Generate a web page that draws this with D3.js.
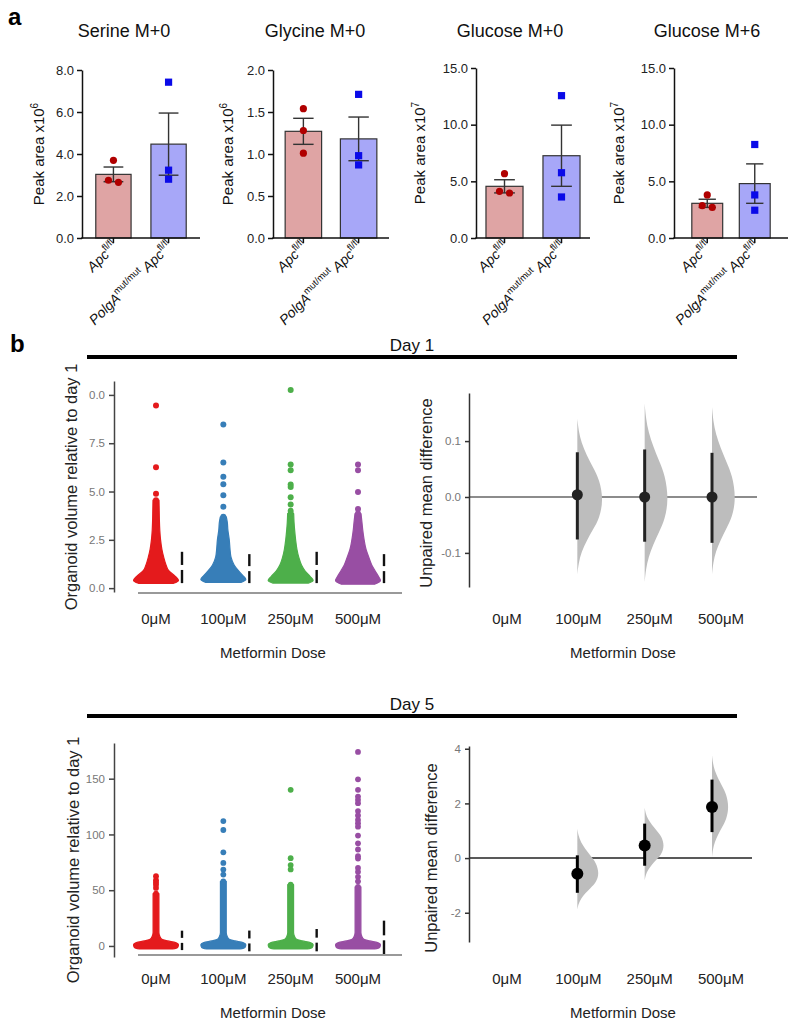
<!DOCTYPE html>
<html><head><meta charset="utf-8">
<script src="https://cdn.jsdelivr.net/npm/d3@7"></script>
<style>
body{margin:0;background:#fff;}
svg{display:block;}
</style></head><body>
<svg id="c" width="800" height="1024"></svg>
<script>
// ---------------- DATA: panel a ----------------
const aTitles = ["Serine M+0","Glycine M+0","Glucose M+0","Glucose M+6"];
const aExponents = ["6","6","7","7"];
const aYMax = [8, 2, 15, 15];
const aYTicks = [[0,2,4,6,8],[0,0.5,1,1.5,2],[0,5,10,15],[0,5,10,15]];
const aGroupLabels = [[["Apc","fl/fl"]], [["PolgA","mut/mut"],["Apc","fl/fl"]]];
const aMeanApc  = [3.03, 1.27, 4.56, 3.06];
const aMeanPolg = [4.47, 1.18, 7.26, 4.80];
const aSemApc   = [0.35, 0.155, 0.58, 0.36];
const aSemPolg  = [1.48, 0.26, 2.70, 1.74];
const aPtsApc  = [[3.70,2.65,2.75],[1.54,1.28,1.01],[5.68,3.97,4.12],[3.80,2.70,2.85]];
const aPtsPolg = [[7.42,3.23,2.80],[1.71,0.98,0.87],[12.56,5.76,3.62],[8.25,3.80,2.45]];

// ---------------- DATA: panel b ----------------
const doses = ["0μM","100μM","250μM","500μM"];
const d1TickVals = [0, 2.5, 5, 7.5, 10];
const d1TickLabels = ["0.0","2.5","5.0","7.5","0.0"];
const d5TickVals = [0, 50, 100, 150];
const d5TickLabels = ["0","50","100","150"];

// Day 1 swarm outline (value, relative width of the dense swarm)
const d1SwarmVals = [
  [0.25,0.4,0.6,0.9,1.2,1.6,2.0,2.5,3.0,3.5,4.0,4.55],
  [0.3,0.45,0.65,0.9,1.2,1.6,2.0,2.5,3.0,3.4,3.69],
  [0.26,0.4,0.6,0.9,1.2,1.6,2.0,2.5,3.0,3.4,3.86],
  [0.2,0.4,0.6,0.9,1.2,1.6,2.0,2.5,3.0,3.4,3.86]];
const d1SwarmDens = [
  [0.75,1.0,0.85,0.5,0.36,0.24,0.15,0.08,0.04,0.02,0.01,0],
  [0.75,1.0,0.85,0.62,0.4,0.24,0.19,0.15,0.08,0.05,0],
  [0.75,1.0,0.85,0.58,0.4,0.26,0.17,0.1,0.05,0.02,0],
  [0.7,1.0,0.9,0.72,0.55,0.4,0.26,0.16,0.09,0.05,0]];
const d1Outliers = [
  [9.45,6.25,4.88],
  [8.47,6.5,5.76,5.38,4.81,4.21],
  [10.26,6.4,6.1,5.36,5.24,4.71,4.33,4.0],
  [6.4,6.1,4.97,4.09]];
const d1Mean = [1.07,1.01,1.07,1.01];
const d1SD   = [0.81,0.75,0.81,0.75];

// Day 5 swarm outline
const d5SwarmVals = [
  [-2.7,-1.5,1,3,4.5,6,8.5,12,47],
  [-2.7,-1.5,1,3,4.5,6,8.5,12,58],
  [-2.7,-1.5,1,3,4.5,6,8.5,12,55],
  [-2.7,-1.5,1,3,4.5,6,8.5,12,53]];
const d5SwarmDens = [
  [0.7,0.95,1.0,0.85,0.45,0.15,0.05,0,0],
  [0.7,0.95,1.0,0.85,0.45,0.15,0.05,0,0],
  [0.7,0.95,1.0,0.85,0.45,0.15,0.05,0,0],
  [0.7,0.95,1.0,0.85,0.45,0.15,0.05,0,0]];
const d5Outliers = [
  [62.5,59,57,55,52],
  [112,104,84,74.5,68.5,64],
  [140,78.7,72.5,68.6],
  [174,149.4,140,134,131,128,121,117,113,110,107,99,92,86.5,80.5,78.4,70,66.5,62,58]];
const d5Mean = [5.0,4.5,5.2,7.3];
const d5SD   = [8.7,9.3,10,15.4];

// Estimation plots (vs 0μM)
const d1Diff = [0.004, 0.0, 0.0];
const d1CILo = [-0.076, -0.080, -0.082];
const d1CIHi = [0.080, 0.085, 0.079];
const d1BootTop = [0.14, 0.167, 0.161];
const d1BootBot = [-0.138, -0.152, -0.138];
const d1BootPeak = [-0.005, -0.003, -0.002];
const d1BootDens = [1.0, 0.92, 0.92];

const d5Diff = [-0.57, 0.46, 1.87];
const d5CILo = [-1.27, -0.28, 0.95];
const d5CIHi = [0.10, 1.26, 2.87];
const d5BootTop = [1.07, 1.84, 3.76];
const d5BootBot = [-1.88, -0.82, 0.04];
const d5BootPeak = [-0.57, 0.46, 1.87];
const d5BootDens = [1.0, 0.9, 0.77];

// shared bootstrap-distribution profile (normalised position, relative width)
const bootShapeT = [-1,-0.85,-0.7,-0.55,-0.4,-0.25,0,0.25,0.4,0.55,0.7,0.85,1];
const bootShapeW = [0,0.05,0.16,0.36,0.6,0.85,1,0.85,0.6,0.36,0.16,0.05,0];

// ---------------- DRAWING ----------------
const F = '"Liberation Sans", Arial, Helvetica, sans-serif';
const svg = d3.select("#c").attr("font-family", F);

// ===== Panel a =====
svg.append("text").attr("x",8).attr("y",25).attr("font-size",24).attr("font-weight","bold").text("a");

const aLayout = [
  {x0:82,  x1:200, top:70, tx:124, lx:44,  inner:0.36, outer:0.25},
  {x0:273, x1:389, top:70, tx:315, lx:233, inner:0.34, outer:0.22},
  {x0:476, x1:590, top:68, tx:510, lx:425, inner:0.35, outer:0.175},
  {x0:674, x1:788, top:68, tx:707, lx:624, inner:0.35, outer:0.375}];
const aBase = 238;
const groupKeys = ["apc","polg"];
const fillCols = ["#dfa4a4","#a7a7f8"];
const ptCols = ["#b00000","#0a0ae8"];

aTitles.forEach((title, p) => {
  const L = aLayout[p];
  const g = svg.append("g");
  const y = d3.scaleLinear().domain([0, aYMax[p]]).range([aBase, L.top]);
  const x = d3.scaleBand().domain(groupKeys).range([L.x0, L.x1]).paddingInner(L.inner).paddingOuter(L.outer);

  g.append("text").attr("x",L.tx).attr("y",37).attr("text-anchor","middle").attr("font-size",18).attr("fill","#111").text(title);

  const yl = g.append("text").attr("transform",`translate(${L.lx},${(aBase+L.top)/2}) rotate(-90)`)
    .attr("text-anchor","middle").attr("font-size",15).attr("fill","#111");
  yl.append("tspan").text("Peak area x10");
  yl.append("tspan").attr("dy",-6).attr("font-size",10).text(aExponents[p]);

  const means = [aMeanApc[p], aMeanPolg[p]];
  const sems = [aSemApc[p], aSemPolg[p]];
  const pts = [aPtsApc[p], aPtsPolg[p]];

  groupKeys.forEach((k, gi) => {
    const bx = x(k), bw = x.bandwidth(), cx = bx + bw/2;
    g.append("rect").attr("x",bx).attr("y",y(means[gi])).attr("width",bw).attr("height",aBase - y(means[gi]))
      .attr("fill",fillCols[gi]).attr("stroke","#333").attr("stroke-width",1.2);
    const hi = y(means[gi]+sems[gi]), lo = y(means[gi]-sems[gi]), cw = bw*0.28;
    g.append("line").attr("x1",cx).attr("x2",cx).attr("y1",hi).attr("y2",lo).attr("stroke","#333").attr("stroke-width",1.4);
    [hi,lo].forEach(yy => g.append("line").attr("x1",cx-cw).attr("x2",cx+cw).attr("y1",yy).attr("y2",yy).attr("stroke","#333").attr("stroke-width",1.4));
    // points, spread horizontally when overlapping
    const sorted = pts[gi].map(v => ({v, py:y(v)})).sort((a,b)=>a.py-b.py);
    const clusters = [];
    sorted.forEach(d => {
      const last = clusters[clusters.length-1];
      if (last && Math.abs(d.py - last[last.length-1].py) < 7) last.push(d); else clusters.push([d]);
    });
    clusters.forEach(cl => cl.forEach((d,i) => { d.px = cx + (i - (cl.length-1)/2) * 10; }));
    sorted.forEach(d => {
      if (gi === 0) g.append("circle").attr("cx",d.px).attr("cy",d.py).attr("r",3.6).attr("fill",ptCols[0]);
      else g.append("rect").attr("x",d.px-3.6).attr("y",d.py-3.6).attr("width",7.2).attr("height",7.2).attr("fill",ptCols[1]);
    });
    // x tick
    g.append("line").attr("x1",cx).attr("x2",cx).attr("y1",aBase).attr("y2",aBase+5).attr("stroke","#111").attr("stroke-width",1.5);
    // x label
    const t = g.append("text").attr("transform",`translate(${cx+5},${aBase+9}) rotate(-45)`)
      .attr("text-anchor","end").attr("font-size",14).attr("fill","#111");
    aGroupLabels[gi].forEach((part, pi) => {
      t.append("tspan").attr("font-style","italic").attr("dy", pi === 0 ? 0 : 6).text((pi ? " " : "") + part[0]);
      t.append("tspan").attr("font-size",9.5).attr("dy",-6).text(part[1]);
    });
  });

  const ax = g.append("g").attr("transform",`translate(${L.x0},0)`)
    .call(d3.axisLeft(y).tickValues(aYTicks[p]).tickFormat(d => d.toFixed(1)).tickSize(5).tickSizeOuter(0).tickPadding(3));
  ax.attr("font-family",F).attr("font-size",13);
  ax.selectAll("path,line").attr("stroke","#111").attr("stroke-width",1.5);
  ax.selectAll("text").attr("fill","#222");
  g.append("line").attr("x1",L.x0-0.75).attr("x2",L.x1).attr("y1",aBase).attr("y2",aBase).attr("stroke","#111").attr("stroke-width",1.5);
});

// ===== Panel b =====
svg.append("text").attr("x",10).attr("y",352).attr("font-size",24).attr("font-weight","bold").text("b");

function dayHeader(label, ty, ly) {
  svg.append("text").attr("x",412).attr("y",ty).attr("text-anchor","middle").attr("font-size",17).attr("fill","#111").text(label);
  svg.append("line").attr("x1",87).attr("x2",737).attr("y1",ly).attr("y2",ly).attr("stroke","#000").attr("stroke-width",4);
}
dayHeader("Day 1", 351, 357);
dayHeader("Day 5", 710, 716);

const swarmCols = ["#e41a1c","#377eb8","#4daf4a","#984ea3"];

function swarmPlot(o) {
  const g = svg.append("g");
  const y = d3.scaleLinear().domain(o.dom).range(o.rng);
  const x = d3.scalePoint().domain(doses).range([156, 358]);
  const wScale = d3.scaleLinear().domain([0,1]).range([o.r, o.maxHalf]);
  doses.forEach((d, i) => {
    const cx = x(d);
    const prof = o.vals[i].map((v,j) => ({v, w:o.dens[i][j]}));
    const area = d3.area().curve(d3.curveMonotoneY)
      .y(p => y(p.v)).x0(p => cx - wScale(p.w)).x1(p => cx + wScale(p.w));
    g.append("path").attr("d", area(prof)).attr("fill",swarmCols[i]).attr("stroke",swarmCols[i]).attr("stroke-width",1.2).attr("stroke-linejoin","round");
    g.append("circle").attr("cx",cx).attr("cy",y(prof[prof.length-1].v)).attr("r",o.r).attr("fill",swarmCols[i]);
    g.selectAll(null).data(o.out[i]).join("circle")
      .attr("cx",cx).attr("cy",v => y(v)).attr("r",o.r).attr("fill",swarmCols[i]);
    // mean ± SD gapped line
    const lx = cx + 26, m = y(o.mean[i]), top = y(o.mean[i]+o.sd[i]), bot = y(o.mean[i]-o.sd[i]);
    g.append("line").attr("x1",lx).attr("x2",lx).attr("y1",top).attr("y2",m-2.5).attr("stroke","#111").attr("stroke-width",2.4);
    g.append("line").attr("x1",lx).attr("x2",lx).attr("y1",m+2.5).attr("y2",bot).attr("stroke","#111").attr("stroke-width",2.4);
  });
  const ax = g.append("g").attr("transform","translate(114,0)")
    .call(d3.axisLeft(y).tickValues(o.ticks).tickFormat((d,i) => o.labels[i]).tickSize(5).tickSizeOuter(0).tickPadding(4));
  ax.attr("font-family",F).attr("font-size",11.5);
  ax.selectAll("path,line").attr("stroke","#444").attr("stroke-width",1.5);
  ax.selectAll("text").attr("fill","#777");
  g.append("line").attr("x1",138).attr("x2",402).attr("y1",o.xLineY).attr("y2",o.xLineY).attr("stroke","#999").attr("stroke-width",1.8);
  doses.forEach(d => g.append("text").attr("x",x(d)).attr("y",o.tickY).attr("text-anchor","middle").attr("font-size",15).attr("fill","#222").text(d));
  g.append("text").attr("x",273).attr("y",o.tickY+34).attr("text-anchor","middle").attr("font-size",15).attr("fill","#222").text("Metformin Dose");
  g.append("text").attr("transform",`translate(${o.ylx},${o.yly}) rotate(-90)`).attr("text-anchor","middle")
    .attr("font-size",16.5).attr("fill","#222").text("Organoid volume relative to day 1");
}

swarmPlot({dom:[-0.2,10.72], rng:[592,381], vals:d1SwarmVals, dens:d1SwarmDens, out:d1Outliers,
  mean:d1Mean, sd:d1SD, r:3, maxHalf:22.5, ticks:d1TickVals, labels:d1TickLabels, xLineY:593,
  tickY:624, ylx:77, yly:487});
swarmPlot({dom:[-9.9,182], rng:[957,743], vals:d5SwarmVals, dens:d5SwarmDens, out:d5Outliers,
  mean:d5Mean, sd:d5SD, r:2.9, maxHalf:22.5, ticks:d5TickVals, labels:d5TickLabels, xLineY:955,
  tickY:984, ylx:79, yly:860});

function estPlot(o) {
  const g = svg.append("g");
  const y = d3.scaleLinear().domain(o.dom).range(o.rng);
  const xl = d3.scalePoint().domain(doses).range([507, 721]);
  const xp = d3.scalePoint().domain(doses).range([510, 712]);
  const wScale = d3.scaleLinear().domain([0,1]).range([0, o.maxW]);
  g.append("line").attr("x1",469).attr("x2",o.zx2).attr("y1",y(0)).attr("y2",y(0)).attr("stroke",o.zc).attr("stroke-width",1.5);
  doses.slice(1).forEach((d, i) => {
    const cx = xp(d);
    const peak = o.peak[i], top = o.top[i], bot = o.bot[i];
    const prof = bootShapeT.map((t,j) => ({v: t < 0 ? peak + t*(peak-bot) : peak + t*(top-peak), w: bootShapeW[j]*o.dens[i]}));
    const area = d3.area().curve(d3.curveBasis).y(p => y(p.v)).x0(cx).x1(p => cx + wScale(p.w));
    g.append("path").attr("d", area(prof)).attr("fill","#bdbdbd");
    g.append("line").attr("x1",cx).attr("x2",cx).attr("y1",y(o.hi[i])).attr("y2",y(o.lo[i])).attr("stroke",o.pc).attr("stroke-width",3);
    g.append("circle").attr("cx",cx).attr("cy",y(o.diff[i])).attr("r",o.pr).attr("fill",o.pc);
  });
  const ax = g.append("g").attr("transform","translate(469,0)")
    .call(d3.axisLeft(y).tickValues(o.ticks).tickFormat(o.fmt).tickSize(4).tickSizeOuter(0).tickPadding(4));
  ax.attr("font-family",F).attr("font-size",11.5);
  ax.selectAll("path,line").attr("stroke","#333").attr("stroke-width",1.5);
  ax.selectAll("text").attr("fill","#777");
  doses.forEach(d => g.append("text").attr("x",xl(d)).attr("y",o.tickY).attr("text-anchor","middle").attr("font-size",15).attr("fill","#222").text(d));
  g.append("text").attr("x",623).attr("y",o.tickY+34).attr("text-anchor","middle").attr("font-size",15).attr("fill","#222").text("Metformin Dose");
  g.append("text").attr("transform",`translate(${o.ylx},${o.yly}) rotate(-90)`).attr("text-anchor","middle")
    .attr("font-size",16.5).attr("fill","#222").text("Unpaired mean difference");
}

estPlot({dom:[-0.161,0.186], rng:[587,393], diff:d1Diff, lo:d1CILo, hi:d1CIHi, top:d1BootTop, bot:d1BootBot,
  peak:d1BootPeak, dens:d1BootDens, maxW:26, ticks:[-0.1,0,0.1], fmt:d => d.toFixed(1), zx2:757, zc:"#666",
  pc:"#222", pr:5.5, tickY:624, ylx:432, yly:493});
estPlot({dom:[-3.07,4.1], rng:[942,746], diff:d5Diff, lo:d5CILo, hi:d5CIHi, top:d5BootTop, bot:d5BootBot,
  peak:d5BootPeak, dens:d5BootDens, maxW:22, ticks:[-2,0,2,4], fmt:d => String(d), zx2:752, zc:"#222",
  pc:"#000", pr:6, tickY:984, ylx:437, yly:858});
</script></body></html>
